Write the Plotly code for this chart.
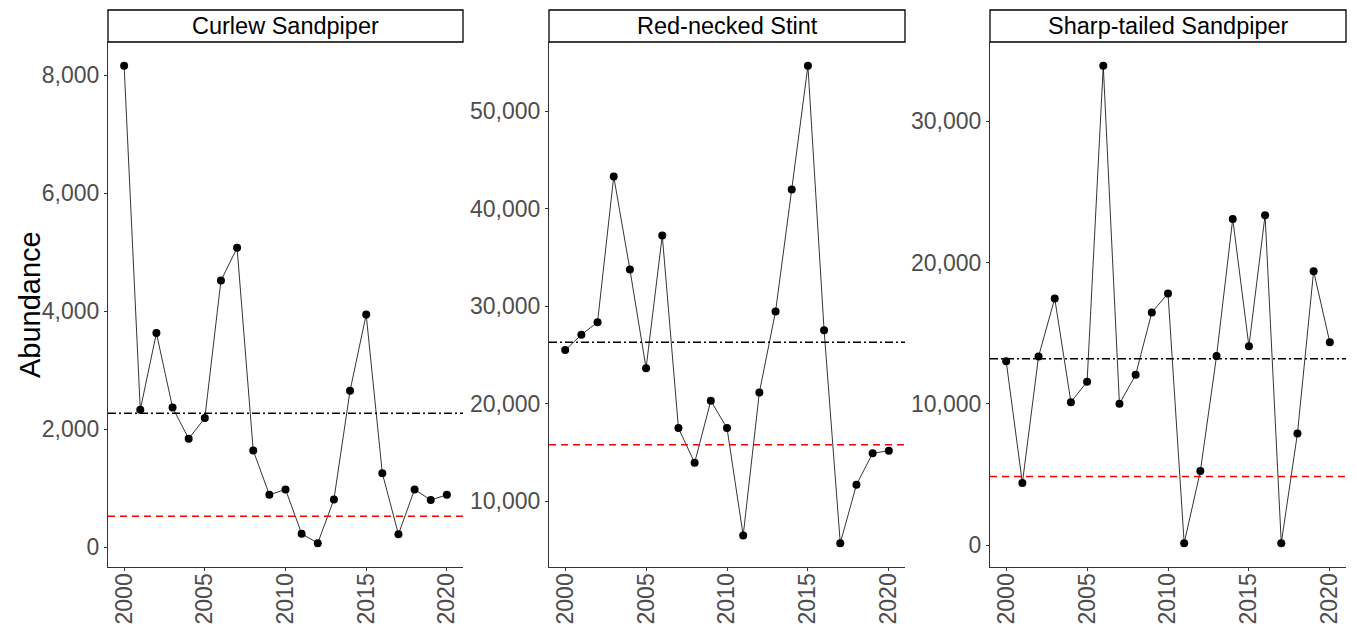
import plotly.graph_objects as go

# Survey years and annual abundance counts per species
years = list(range(2000, 2021))
species = ["Curlew Sandpiper", "Red-necked Stint", "Sharp-tailed Sandpiper"]

curlew_sandpiper = [8160, 2330, 3630, 2370, 1840, 2190, 4520, 5075, 1640, 890,
                    980, 230, 70, 810, 2655, 3945, 1255, 220, 980, 800, 890]
red_necked_stint = [25500, 27060, 28360, 43300, 33760, 23640, 37250, 17490, 13930, 20290,
                    17490, 6480, 21150, 29460, 41970, 54650, 27540, 5690, 11670, 14920, 15160]
sharp_tailed_sandpiper = [13020, 4390, 13350, 17460, 10120, 11560, 33920, 10000, 12050, 16470,
                          17810, 140, 5240, 13380, 23090, 14080, 23350, 140, 7900, 19390, 14350]

# Reference levels: long-term mean (black dash-dot) and threshold (red dashed)
mean_level = [2270, 26310, 13190]
threshold_level = [525, 15770, 4860]

# Y-axis tick values per panel
y_ticks = [
    [0, 2000, 4000, 6000, 8000],
    [10000, 20000, 30000, 40000, 50000],
    [0, 10000, 20000, 30000],
]
x_ticks = [2000, 2005, 2010, 2015, 2020]

series = [curlew_sandpiper, red_necked_stint, sharp_tailed_sandpiper]

W, H = 1357, 630
panel_px = [(108, 463), (549, 905), (990, 1346)]
plot_top_px, plot_bottom_px = 42, 567
strip_top_px = 10

y_dom = [(H - plot_bottom_px) / H, (H - plot_top_px) / H]

FONT = "Liberation Sans, Arial, sans-serif"
fig = go.Figure()
tick_font = dict(family=FONT, size=23, color="#4D4D4D")
axis_col = "#333333"

for i, (name, vals) in enumerate(zip(species, series)):
    n = "" if i == 0 else str(i + 1)
    xa, ya = "x" + n, "y" + n
    fig.add_trace(go.Scatter(
        x=years, y=vals, mode="lines+markers",
        line=dict(color="black", width=0.8),
        marker=dict(color="black", size=8),
        xaxis=xa, yaxis=ya, showlegend=False,
    ))
    lo, hi = min(vals), max(vals)
    pad = 0.05 * (hi - lo)
    x0p, x1p = panel_px[i]
    dom = [x0p / W, x1p / W]
    fig.layout["xaxis" + n] = dict(
        domain=dom, anchor=ya, range=[1999, 2021],
        tickvals=x_ticks, tickangle=-90, tickfont=tick_font, ticklabelstandoff=-7,
        showgrid=False, zeroline=False, showline=True, linecolor=axis_col, linewidth=1.2,
        ticks="outside", ticklen=3, tickcolor=axis_col, automargin=False,
    )
    fig.layout["yaxis" + n] = dict(
        domain=y_dom, anchor=xa, range=[lo - pad, hi + pad],
        tickvals=y_ticks[i], tickformat=",", tickfont=tick_font,
        showgrid=False, zeroline=False, showline=True, linecolor=axis_col, linewidth=1.2,
        ticks="outside", ticklen=3, tickcolor=axis_col, automargin=False,
    )
    # horizontal reference lines
    fig.add_shape(type="line", xref=xa + " domain", yref=ya, x0=0, x1=1,
                  y0=mean_level[i], y1=mean_level[i],
                  line=dict(color="black", width=1.5, dash="8px,3px,2px,3px"))
    fig.add_shape(type="line", xref=xa + " domain", yref=ya, x0=0, x1=1,
                  y0=threshold_level[i], y1=threshold_level[i],
                  line=dict(color="red", width=1.5, dash="7px,5px"))
    # facet strip
    fig.add_shape(type="rect", xref="paper", yref="paper",
                  x0=dom[0], x1=dom[1], y0=(H - plot_top_px) / H, y1=(H - strip_top_px) / H,
                  line=dict(color="black", width=1.3), fillcolor="white")
    fig.add_annotation(xref="paper", yref="paper", x=(dom[0] + dom[1]) / 2,
                       y=(H - (plot_top_px + strip_top_px) / 2) / H,
                       text=name, showarrow=False, xanchor="center", yanchor="middle",
                       font=dict(family=FONT, size=23.5, color="black"))

fig.add_annotation(xref="paper", yref="paper", x=30 / W, y=(H - 305) / H,
                   text="Abundance", textangle=-90, showarrow=False,
                   xanchor="center", yanchor="middle",
                   font=dict(family=FONT, size=29, color="black"))

fig.update_layout(
    width=W, height=H,
    margin=dict(l=0, r=0, t=0, b=0),
    paper_bgcolor="white", plot_bgcolor="white",
)

fig.write_html("out.html")
